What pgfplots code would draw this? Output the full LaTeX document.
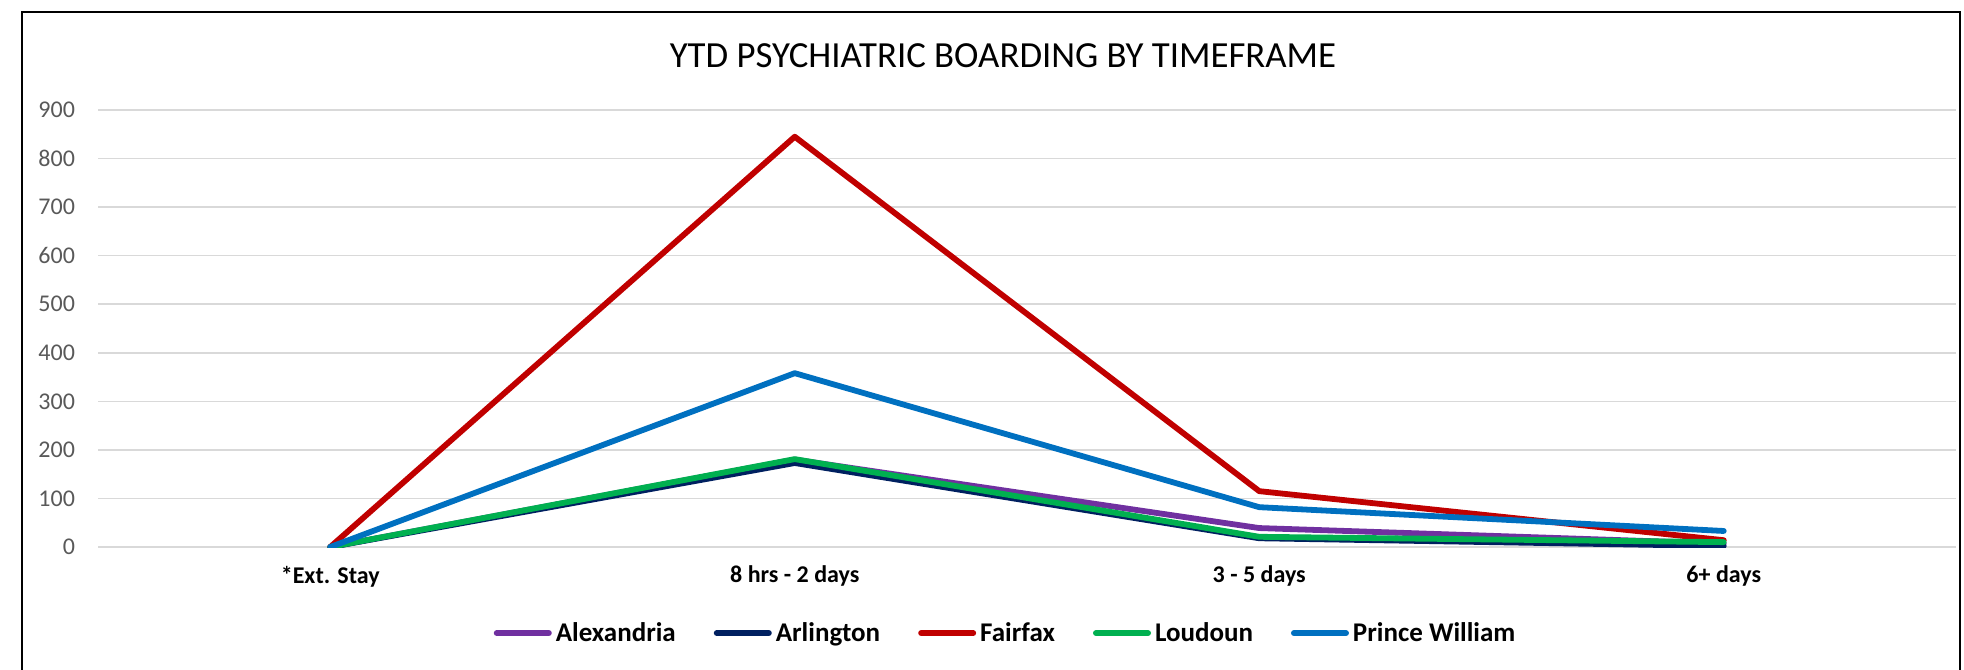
\documentclass[border=0pt]{standalone}
\usepackage{pgfplots}
\pgfplotsset{compat=1.18}
\usepackage{fontspec}
\setmainfont{Carlito}
\definecolor{cAlex}{HTML}{7030A0}
\definecolor{cArl}{HTML}{002060}
\definecolor{cFair}{HTML}{C00000}
\definecolor{cLoud}{HTML}{00B050}
\definecolor{cPW}{HTML}{0070C0}
\definecolor{gridc}{HTML}{D9D9D9}
\definecolor{tickc}{HTML}{595959}
\begin{document}
\begin{tikzpicture}
\useasboundingbox (0,0) rectangle (982pt,334.5pt);
\draw[black, line width=1.4pt] (11pt,-5pt) -- (11pt,328.5pt) -- (980pt,328.5pt) -- (980pt,-5pt);
\node[font=\fontsize{18.4}{21}\selectfont, anchor=center] at (501.5pt,306.5pt) {YTD PSYCHIATRIC BOARDING BY TIMEFRAME};
\begin{axis}[
  at={(49pt,61pt)}, anchor=south west,
  scale only axis, width=929pt, height=218.5pt,
  xmin=-0.5, xmax=3.5, ymin=0, ymax=900,
  xtick={0,1,2,3},
  xticklabels={*Ext. Stay, 8 hrs - 2 days, 3 - 5 days, 6+ days},
  ytick={0,100,...,900},
  ymajorgrids, grid style={gridc, line width=0.8pt},
  axis line style={draw=none}, tick style={draw=none},
  /pgf/number format/assume math mode=true,
  yticklabel style={font=\fontsize{12}{14}\selectfont, text=tickc, xshift=-8pt},
  xticklabel style={font=\fontsize{12}{14}\selectfont\bfseries, text=black, yshift=-6pt},
  legend columns=5,
  legend style={draw=none, at={(0.489,-0.197)}, anchor=center,
    font=\fontsize{13.5}{16}\selectfont\bfseries, inner sep=0pt,
    /tikz/every even column/.append style={column sep=17pt}},
  legend image code/.code={\draw[#1, line width=3pt, line cap=round] (0pt,0pt) -- (26pt,0pt);},
  every axis plot/.append style={line width=2.9pt, line cap=round, line join=round},
]
\addplot[cAlex, mark=none] coordinates {(0,0) (1,180) (2,39) (3,7)};
\addlegendentry{Alexandria}
\addplot[cArl, mark=none] coordinates {(0,0) (1,173) (2,18) (3,2)};
\addlegendentry{Arlington}
\addplot[cFair, mark=none] coordinates {(0,0) (1,845) (2,115) (3,14)};
\addlegendentry{Fairfax}
\addplot[cLoud, mark=none] coordinates {(0,0) (1,181) (2,21) (3,10)};
\addlegendentry{Loudoun}
\addplot[cPW, mark=none] coordinates {(0,0) (1,358) (2,82) (3,33)};
\addlegendentry{Prince William}
\end{axis}
\end{tikzpicture}
\end{document}
